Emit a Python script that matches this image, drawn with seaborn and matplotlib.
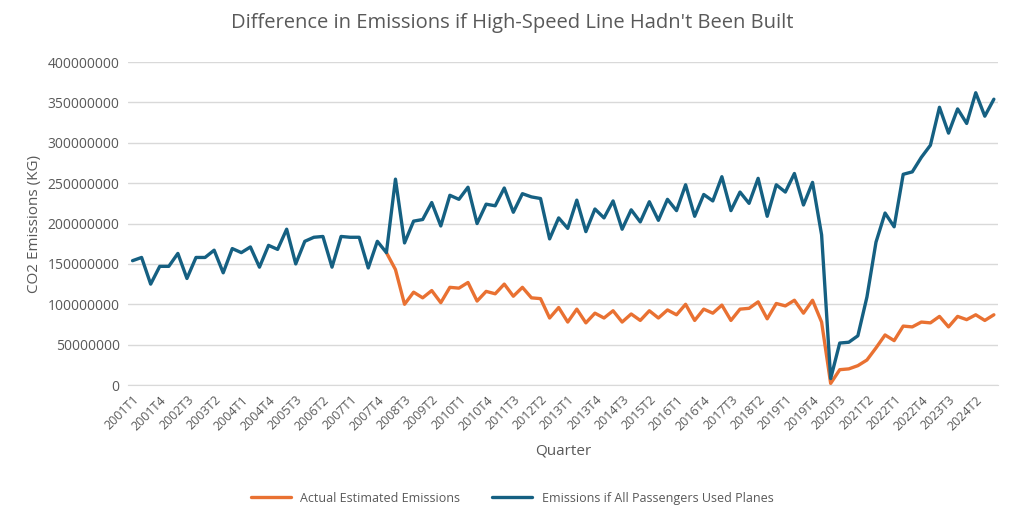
import matplotlib.pyplot as plt
import seaborn as sns
import numpy as np
import pandas as pd

# Quarters 2001T1 .. 2024T4
quarters = [f"{y}T{q}" for y in range(2001, 2025) for q in range(1, 5)]

# CO2 emissions (millions of KG)
planes_m = [
    154, 158, 125, 147, 147, 163, 132, 158, 158, 167,
    139, 169, 164, 171, 146, 173, 168, 193, 150, 178,
    183, 184, 146, 184, 183, 183, 145, 178, 164, 255,
    176, 203, 205, 226, 197, 235, 230, 245, 200, 224,
    222, 244, 214, 237, 233, 231, 181, 207, 194, 229,
    190, 218, 207, 228, 193, 217, 202, 227, 204, 230,
    216, 248, 209, 236, 228, 258, 216, 239, 225, 256,
    209, 248, 239, 262, 223, 251, 186, 8, 52, 53,
    61, 109, 177, 213, 196, 261, 264, 282, 297, 344,
    312, 342, 324, 362, 333, 354,
]
actual_m = [np.nan] * 28 + [
    164, 143, 100, 115, 108, 117, 102, 121, 120, 127,
    104, 116, 113, 125, 110, 121, 108, 107, 83, 96,
    78, 94, 77, 89, 83, 92, 78, 88, 80, 92,
    83, 93, 87, 100, 80, 94, 89, 99, 80, 94,
    95, 103, 82, 101, 98, 105, 89, 105, 78, 2,
    19, 20, 24, 31, 46, 62, 55, 73, 72, 78,
    77, 85, 72, 85, 81, 87, 80, 87,
]

df = pd.DataFrame({
    "idx": np.arange(len(quarters)),
    "Quarter": quarters,
    "Actual Estimated Emissions": np.array(actual_m) * 1e6,
    "Emissions if All Passengers Used Planes": np.array(planes_m) * 1e6,
})

sns.set_style("white")
plt.rcParams['font.family'] = ['Open Sans', 'DejaVu Sans']
grey = "#595959"

fig, ax = plt.subplots(figsize=(10.24, 5.26), dpi=100)
fig.subplots_adjust(left=0.125, right=0.975, top=0.882, bottom=0.268)

sns.lineplot(data=df, x="idx", y="Actual Estimated Emissions", ax=ax,
             color="#E97132", linewidth=2.4, label="Actual Estimated Emissions")
sns.lineplot(data=df, x="idx", y="Emissions if All Passengers Used Planes", ax=ax,
             color="#156082", linewidth=2.4, label="Emissions if All Passengers Used Planes")

ax.set_xlim(-0.5, len(quarters) - 0.5)
ax.set_ylim(0, 400e6)
yt = np.arange(0, 400e6 + 1, 50e6)
ax.set_yticks(yt)
ax.set_yticklabels([f"{int(v)}" for v in yt], color=grey, fontsize=10)
ax.yaxis.grid(True, color="#d9d9d9", linewidth=1)
ax.set_axisbelow(True)

xt = list(range(0, len(quarters), 3))
ax.set_xticks(xt)
ax.set_xticklabels([quarters[i] for i in xt], rotation=45, ha="right",
                   rotation_mode="anchor", color=grey, fontsize=9)
ax.tick_params(axis="both", length=0, pad=6)

for s in ["top", "right", "left"]:
    ax.spines[s].set_visible(False)
ax.spines["bottom"].set_color("#d9d9d9")

ax.set_xlabel("Quarter", color=grey, fontsize=11, labelpad=8)
ax.set_ylabel("CO2 Emissions (KG)", color=grey, fontsize=11)
fig.suptitle("Difference in Emissions if High-Speed Line Hadn't Been Built",
             color=grey, fontsize=14.5, x=0.5, y=0.975)

ax.get_legend().remove()
h, l = ax.get_legend_handles_labels()
fig.legend(h, l, loc="center", bbox_to_anchor=(0.5, 0.053), ncol=2, frameon=False,
           fontsize=9, labelcolor=grey, handlelength=3.2, columnspacing=2.5)

fig.savefig("out.png", dpi=100, facecolor="white")
